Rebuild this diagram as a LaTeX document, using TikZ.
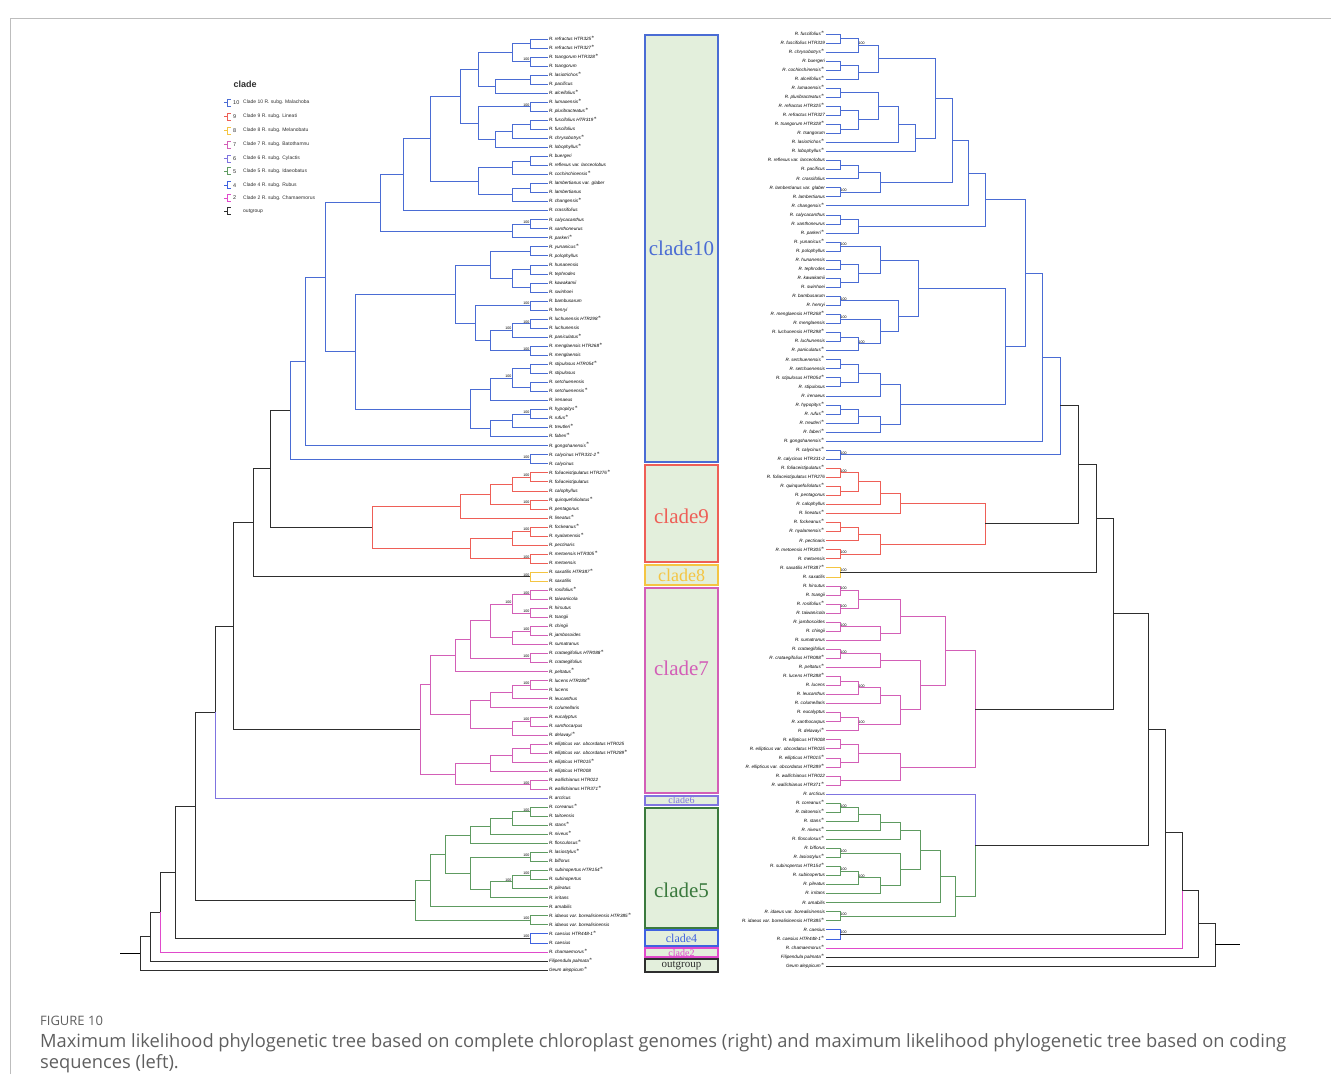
\documentclass[tikz,border=0pt]{standalone}
\usepackage{fontspec}
\setmainfont{Liberation Sans}
\newfontfamily\boxfont{Liberation Serif}
\newfontfamily\capfont{Open Sans}
\usetikzlibrary{calc}
\definecolor{TreeInk}{HTML}{2E2E2E}
\definecolor{TreeBlue}{HTML}{4A6CD4}
\definecolor{TreeRed}{HTML}{EE5F57}
\definecolor{TreeGold}{HTML}{F4C542}
\definecolor{TreePink}{HTML}{D35FB7}
\definecolor{TreeViolet}{HTML}{7F74E0}
\definecolor{TreeGreen}{HTML}{5E9B61}
\definecolor{TreeDarkGreen}{HTML}{3B7A3E}
\definecolor{TreeRoyal}{HTML}{3F62E0}
\definecolor{TreeMagenta}{HTML}{E04ACB}
\definecolor{BoxFill}{HTML}{E3EFDC}
\definecolor{FrameGray}{HTML}{BDBDBD}
\definecolor{CaptionGray}{HTML}{5F5F5F}
\newcommand\clade[5][TreeInk]{%
  \path let \p1=(#4), \p2=(#5) in coordinate (#2) at (#3pt,{(\y1+\y2)/2});
  \draw[branch,#1] (#2) |- (#4) (#2) |- (#5);}
\begin{document}
\begin{tikzpicture}[x=1pt,y=-1pt,
  branch/.style={line width=1pt},
  leafl/.style={anchor=west, inner sep=0.8pt, font=\fontsize{4.6}{5}\selectfont\itshape, text height=3.4pt, text depth=1pt},
  leafr/.style={anchor=east, inner sep=0.8pt, font=\fontsize{4.6}{5}\selectfont\itshape, text height=3.4pt, text depth=1pt},
  bootl/.style={anchor=south east, inner sep=0.5pt, font=\fontsize{3.6}{3.6}\selectfont},
  bootr/.style={anchor=south west, inner sep=0.5pt, font=\fontsize{3.6}{3.6}\selectfont},
  cladebox/.style={draw=#1, fill=BoxFill, line width=1.6pt, minimum width=73pt, inner sep=0pt},
  boxlabel/.style={text=#1, font=\boxfont\fontsize{21}{21}\selectfont, inner sep=0pt}]
  \useasboundingbox (0,0) rectangle (1331,1074);
  \draw[FrameGray, line width=0.8pt] (10,1074) -- (10,18) -- (1331,18);
  % left tree leaves
  \foreach \i/\t in {1/{R. refractus HTR325$^*$},2/{R. refractus HTR327$^*$},3/{R. tsangorum HTR328$^*$},4/{R. tsangorum},5/{R. lasiotrichos$^*$},6/{R. pacificus},7/{R. alceifolius$^*$},8/{R. lumaoensis$^*$},9/{R. pluribracteatus$^*$},10/{R. fuscifolius HTR319$^*$},11/{R. fuscifolius},12/{R. chrysobotrys$^*$},13/{R. lobophyllus$^*$},14/{R. buergeri},15/{R. reflexus var. lanceolobus},16/{R. cochinchinensis$^*$},17/{R. lambertianus var. glaber},18/{R. lambertianus},19/{R. changensis$^*$},20/{R. crassifolius},21/{R. calycacanthus},22/{R. xanthoneurus},23/{R. parkeri$^*$},24/{R. yunanicus$^*$},25/{R. polophyllus},26/{R. hunanensis},27/{R. tephrodes},28/{R. kawakamii},29/{R. swinhoei},30/{R. bambusarum},31/{R. henryi},32/{R. luchunensis HTR298$^*$},33/{R. luchunensis},34/{R. paniculatus$^*$},35/{R. menglaensis HTR268$^*$},36/{R. menglaensis},37/{R. stipulosus HTR054$^*$},38/{R. stipulosus},39/{R. setchuenensis},40/{R. setchuenensis$^*$},41/{R. irenaeus},42/{R. hypopitys$^*$},43/{R. rufus$^*$},44/{R. treutleri$^*$},45/{R. faberi$^*$},46/{R. gongshanensis$^*$},47/{R. calycinus HTR331-2$^*$},48/{R. calycinus},49/{R. foliaceistipulatus HTR276$^*$},50/{R. foliaceistipulatus},51/{R. calophyllus},52/{R. quinquefoliolatus$^*$},53/{R. pentagonus},54/{R. lineatus$^*$},55/{R. fockeanus$^*$},56/{R. nyalamensis$^*$},57/{R. pectinaris},58/{R. metoensis HTR305$^*$},59/{R. metoensis},60/{R. saxatilis HTR387$^*$},61/{R. saxatilis},62/{R. rosifolius$^*$},63/{R. taiwanicola},64/{R. hirsutus},65/{R. tsangii},66/{R. chingii},67/{R. jambosoides},68/{R. sumatranus},69/{R. crataegifolius HTR088$^*$},70/{R. crataegifolius},71/{R. peltatus$^*$},72/{R. lucens HTR288$^*$},73/{R. lucens},74/{R. leucanthus},75/{R. columellaris},76/{R. eucalyptus},77/{R. xanthocarpus},78/{R. delavayi$^*$},79/{R. ellipticus var. obcordatus HTR025},80/{R. ellipticus var. obcordatus HTR289$^*$},81/{R. ellipticus HTR015$^*$},82/{R. ellipticus HTR008},83/{R. wallichianus HTR022},84/{R. wallichianus HTR371$^*$},85/{R. arcticus},86/{R. coreanus$^*$},87/{R. taitoensis},88/{R. stans$^*$},89/{R. niveus$^*$},90/{R. flosculosus$^*$},91/{R. lasiostylus$^*$},92/{R. biflorus},93/{R. subinopertus HTR154$^*$},94/{R. subinopertus},95/{R. pileatus},96/{R. irritans},97/{R. amabilis},98/{R. idaeus var. borealisinensis HTR385$^*$},99/{R. idaeus var. borealisinensis},100/{R. caesius HTR448-1$^*$},101/{R. caesius},102/{R. chamaemorus$^*$},103/{Filipendula palmata$^*$},104/{Geum aleppicum$^*$}}
    \node[leafl] (l\i) at (548,{39+9.04*(\i-1)}) {\t};
  % right tree leaves
  \foreach \i/\t in {1/{R. fuscifolius$^*$},2/{R. fuscifolius HTR319},3/{R. chrysobotrys$^*$},4/{R. buergeri},5/{R. cochinchinensis$^*$},6/{R. alceifolius$^*$},7/{R. lumaoensis$^*$},8/{R. pluribracteatus$^*$},9/{R. refractus HTR325$^*$},10/{R. refractus HTR327},11/{R. tsangorum HTR328$^*$},12/{R. tsangorum},13/{R. lasiotrichos$^*$},14/{R. lobophyllus$^*$},15/{R. reflexus var. lanceolobus},16/{R. pacificus},17/{R. crassifolius},18/{R. lambertianus var. glaber},19/{R. lambertianus},20/{R. changensis$^*$},21/{R. calycacanthus},22/{R. xanthoneurus},23/{R. parkeri$^*$},24/{R. yunanicus$^*$},25/{R. polophyllus},26/{R. hunanensis},27/{R. tephrodes},28/{R. kawakamii},29/{R. swinhoei},30/{R. bambusarum},31/{R. henryi},32/{R. menglaensis HTR268$^*$},33/{R. menglaensis},34/{R. luchunensis HTR298$^*$},35/{R. luchunensis},36/{R. paniculatus$^*$},37/{R. setchuenensis$^*$},38/{R. setchuenensis},39/{R. stipulosus HTR054$^*$},40/{R. stipulosus},41/{R. irenaeus},42/{R. hypopitys$^*$},43/{R. rufus$^*$},44/{R. treutleri$^*$},45/{R. faberi$^*$},46/{R. gongshanensis$^*$},47/{R. calycinus$^*$},48/{R. calycinus HTR331-2},49/{R. foliaceistipulatus$^*$},50/{R. foliaceistipulatus HTR276},51/{R. quinquefoliolatus$^*$},52/{R. pentagonus},53/{R. calophyllus},54/{R. lineatus$^*$},55/{R. fockeanus$^*$},56/{R. nyalamensis$^*$},57/{R. pectinaris},58/{R. metoensis HTR305$^*$},59/{R. metoensis},60/{R. saxatilis HTR387$^*$},61/{R. saxatilis},62/{R. hirsutus},63/{R. tsangii},64/{R. rosifolius$^*$},65/{R. taiwanicola},66/{R. jambosoides},67/{R. chingii},68/{R. sumatranus},69/{R. crataegifolius},70/{R. crataegifolius HTR088$^*$},71/{R. peltatus$^*$},72/{R. lucens HTR288$^*$},73/{R. lucens},74/{R. leucanthus},75/{R. columellaris},76/{R. eucalyptus},77/{R. xanthocarpus},78/{R. delavayi$^*$},79/{R. ellipticus HTR008},80/{R. ellipticus var. obcordatus HTR025},81/{R. ellipticus HTR015$^*$},82/{R. ellipticus var. obcordatus HTR289$^*$},83/{R. wallichianus HTR022},84/{R. wallichianus HTR371$^*$},85/{R. arcticus},86/{R. coreanus$^*$},87/{R. taitoensis$^*$},88/{R. stans$^*$},89/{R. niveus$^*$},90/{R. flosculosus$^*$},91/{R. biflorus},92/{R. lasiostylus$^*$},93/{R. subinopertus HTR154$^*$},94/{R. subinopertus},95/{R. pileatus},96/{R. irritans},97/{R. amabilis},98/{R. idaeus var. borealisinensis},99/{R. idaeus var. borealisinensis HTR385$^*$},100/{R. caesius},101/{R. caesius HTR448-1$^*$},102/{R. chamaemorus$^*$},103/{Filipendula palmata$^*$},104/{Geum aleppicum$^*$}}
    \node[leafr] (r\i) at (826,{34+9.05*(\i-1)}) {\t};
  % left tree, clade 10
  \clade[TreeBlue]{lA1}{530}{l1}{l2}
  \clade[TreeBlue]{lA2}{530}{l3}{l4}
  \clade[TreeBlue]{lA3}{512}{lA1}{lA2}
  \clade[TreeBlue]{lA4}{530}{l5}{l6}
  \clade[TreeBlue]{lA5}{495}{lA4}{l7}
  \clade[TreeBlue]{lA6}{478}{lA3}{lA5}
  \clade[TreeBlue]{lA7}{530}{l8}{l9}
  \clade[TreeBlue]{lA8}{530}{l10}{l11}
  \clade[TreeBlue]{lA9}{512}{lA8}{l12}
  \clade[TreeBlue]{lA10}{495}{lA9}{l13}
  \clade[TreeBlue]{lA11}{478}{lA7}{lA10}
  \clade[TreeBlue]{lA12}{460}{lA6}{lA11}
  \clade[TreeBlue]{lA13}{530}{l14}{l15}
  \clade[TreeBlue]{lA14}{512}{lA13}{l16}
  \clade[TreeBlue]{lA15}{530}{l17}{l18}
  \clade[TreeBlue]{lA16}{512}{lA15}{l19}
  \clade[TreeBlue]{lA17}{478}{lA14}{lA16}
  \clade[TreeBlue]{lA18}{430}{lA12}{lA17}
  \clade[TreeBlue]{lA19}{403}{lA18}{l20}
  \clade[TreeBlue]{lA20}{530}{l21}{l22}
  \clade[TreeBlue]{lA21}{512}{lA20}{l23}
  \clade[TreeBlue]{lA22}{380}{lA19}{lA21}
  \clade[TreeBlue]{lA23}{530}{l24}{l25}
  \clade[TreeBlue]{lA24}{530}{l26}{l27}
  \clade[TreeBlue]{lA25}{530}{l28}{l29}
  \clade[TreeBlue]{lA26}{512}{lA24}{lA25}
  \clade[TreeBlue]{lA27}{490}{lA23}{lA26}
  \clade[TreeBlue]{lA28}{530}{l30}{l31}
  \clade[TreeBlue]{lA29}{530}{l32}{l33}
  \clade[TreeBlue]{lA30}{512}{lA29}{l34}
  \clade[TreeBlue]{lA31}{530}{l35}{l36}
  \clade[TreeBlue]{lA32}{490}{lA30}{lA31}
  \clade[TreeBlue]{lA33}{475}{lA28}{lA32}
  \clade[TreeBlue]{lA34}{455}{lA27}{lA33}
  \clade[TreeBlue]{lA35}{530}{l37}{l38}
  \clade[TreeBlue]{lA36}{530}{l39}{l40}
  \clade[TreeBlue]{lA37}{512}{lA35}{lA36}
  \clade[TreeBlue]{lA38}{490}{lA37}{l41}
  \clade[TreeBlue]{lA39}{530}{l42}{l43}
  \clade[TreeBlue]{lA40}{512}{lA39}{l44}
  \clade[TreeBlue]{lA41}{490}{lA40}{l45}
  \clade[TreeBlue]{lA42}{470}{lA38}{lA41}
  \clade[TreeBlue]{lA43}{355}{lA34}{lA42}
  \clade[TreeBlue]{lA44}{325}{lA22}{lA43}
  \clade[TreeBlue]{lA45}{305}{lA44}{l46}
  \clade[TreeBlue]{lA46}{530}{l47}{l48}
  \clade[TreeBlue]{lA47}{290}{lA45}{lA46}
  % left tree, clades 9 and 8
  \clade[TreeRed]{lB1}{530}{l49}{l50}
  \clade[TreeRed]{lB2}{512}{lB1}{l51}
  \clade[TreeRed]{lB3}{530}{l52}{l53}
  \clade[TreeRed]{lB4}{490}{lB2}{lB3}
  \clade[TreeRed]{lB5}{460}{lB4}{l54}
  \clade[TreeRed]{lB6}{530}{l55}{l56}
  \clade[TreeRed]{lB7}{512}{lB6}{l57}
  \clade[TreeRed]{lB8}{530}{l58}{l59}
  \clade[TreeRed]{lB9}{470}{lB7}{lB8}
  \clade[TreeRed]{lB10}{372}{lB5}{lB9}
  \clade[TreeGold]{lC1}{530}{l60}{l61}
  % left tree, clade 7
  \clade[TreePink]{lE1}{530}{l62}{l63}
  \clade[TreePink]{lE2}{530}{l64}{l65}
  \clade[TreePink]{lE3}{512}{lE1}{lE2}
  \clade[TreePink]{lE4}{530}{l66}{l67}
  \clade[TreePink]{lE5}{512}{lE4}{l68}
  \clade[TreePink]{lE6}{490}{lE3}{lE5}
  \clade[TreePink]{lE7}{530}{l69}{l70}
  \clade[TreePink]{lE8a}{470}{lE6}{lE7}
  \clade[TreePink]{lE8}{455}{lE8a}{l71}
  \clade[TreePink]{lE9}{530}{l72}{l73}
  \clade[TreePink]{lE10}{512}{lE9}{l74}
  \clade[TreePink]{lE11}{490}{lE10}{l75}
  \clade[TreePink]{lE12}{530}{l76}{l77}
  \clade[TreePink]{lE13}{512}{lE12}{l78}
  \clade[TreePink]{lE14}{470}{lE11}{lE13}
  \clade[TreePink]{lE15}{430}{lE8}{lE14}
  \clade[TreePink]{lE16}{530}{l79}{l80}
  \clade[TreePink]{lE17}{512}{lE16}{l81}
  \clade[TreePink]{lE18}{490}{lE17}{l82}
  \clade[TreePink]{lE19}{530}{l83}{l84}
  \clade[TreePink]{lE20}{455}{lE18}{lE19}
  \clade[TreePink]{lE21}{420}{lE15}{lE20}
  % left tree, clades 5 and 4
  \clade[TreeGreen]{lG1}{530}{l86}{l87}
  \clade[TreeGreen]{lG2}{512}{lG1}{l88}
  \clade[TreeGreen]{lG3}{490}{lG2}{l89}
  \clade[TreeGreen]{lG4}{470}{lG3}{l90}
  \clade[TreeGreen]{lG5}{530}{l91}{l92}
  \clade[TreeGreen]{lG6}{530}{l93}{l94}
  \clade[TreeGreen]{lG7}{512}{lG6}{l95}
  \clade[TreeGreen]{lG8}{490}{lG7}{l96}
  \clade[TreeGreen]{lG9}{470}{lG5}{lG8}
  \clade[TreeGreen]{lG10}{445}{lG4}{lG9}
  \clade[TreeGreen]{lG11}{430}{lG10}{l97}
  \clade[TreeGreen]{lG12}{530}{l98}{l99}
  \clade[TreeGreen]{lG13}{415}{lG11}{lG12}
  \clade[TreeRoyal]{lH1}{530}{l100}{l101}
  % left tree, backbone
  \clade{lK1}{270}{lA47}{lB10}
  \clade{lK2}{253}{lK1}{lC1}
  \clade{lK3}{233}{lK2}{lE21}
  \clade{lK4}{215}{lK3}{l85}
  \draw[branch,TreeViolet] (lK4) |- (l85);
  \clade{lK5}{195}{lK4}{lG13}
  \clade{lK6}{175}{lK5}{lH1}
  \clade{lK7}{160}{lK6}{l102}
  \draw[branch,TreeMagenta] (lK7) |- (l102);
  \clade{lK8}{150}{lK7}{l103}
  \clade{lK9}{140}{lK8}{l104}
  \coordinate (lroot) at ($(lK9)+(-20,0)$);
  \draw[branch] (lroot) -- (lK9);
  % right tree, clade 10
  \clade[TreeBlue]{rA1}{840}{r1}{r2}
  \clade[TreeBlue]{rA2}{858}{rA1}{r3}
  \clade[TreeBlue]{rA3}{840}{r4}{r5}
  \clade[TreeBlue]{rA4}{858}{rA3}{r6}
  \clade[TreeBlue]{rA5}{878}{rA2}{rA4}
  \clade[TreeBlue]{rA6}{840}{r7}{r8}
  \clade[TreeBlue]{rA7}{840}{r9}{r10}
  \clade[TreeBlue]{rA8}{840}{r11}{r12}
  \clade[TreeBlue]{rA9}{858}{rA7}{rA8}
  \clade[TreeBlue]{rA10}{878}{rA6}{rA9}
  \clade[TreeBlue]{rA11}{898}{rA10}{r13}
  \clade[TreeBlue]{rA12}{915}{rA11}{r14}
  \clade[TreeBlue]{rA13}{935}{rA5}{rA12}
  \clade[TreeBlue]{rA14}{840}{r15}{r16}
  \clade[TreeBlue]{rA15}{858}{rA14}{r17}
  \clade[TreeBlue]{rA16}{840}{r18}{r19}
  \clade[TreeBlue]{rA17}{880}{rA15}{rA16}
  \clade[TreeBlue]{rA18}{952}{rA13}{rA17}
  \clade[TreeBlue]{rA19}{968}{rA18}{r20}
  \clade[TreeBlue]{rA20}{840}{r21}{r22}
  \clade[TreeBlue]{rA21}{858}{rA20}{r23}
  \clade[TreeBlue]{rA22}{985}{rA19}{rA21}
  \clade[TreeBlue]{rA23}{840}{r24}{r25}
  \clade[TreeBlue]{rA24}{840}{r26}{r27}
  \clade[TreeBlue]{rA25}{840}{r28}{r29}
  \clade[TreeBlue]{rA26}{858}{rA24}{rA25}
  \clade[TreeBlue]{rA27}{880}{rA23}{rA26}
  \clade[TreeBlue]{rA28}{840}{r30}{r31}
  \clade[TreeBlue]{rA29}{840}{r32}{r33}
  \clade[TreeBlue]{rA30}{840}{r34}{r35}
  \clade[TreeBlue]{rA31}{858}{rA30}{r36}
  \clade[TreeBlue]{rA32}{880}{rA29}{rA31}
  \clade[TreeBlue]{rA33}{898}{rA28}{rA32}
  \clade[TreeBlue]{rA34}{918}{rA27}{rA33}
  \clade[TreeBlue]{rA35}{840}{r37}{r38}
  \clade[TreeBlue]{rA36}{840}{r39}{r40}
  \clade[TreeBlue]{rA37}{858}{rA35}{rA36}
  \clade[TreeBlue]{rA38}{880}{rA37}{r41}
  \clade[TreeBlue]{rA39}{840}{r42}{r43}
  \clade[TreeBlue]{rA40}{858}{rA39}{r44}
  \clade[TreeBlue]{rA41}{880}{rA40}{r45}
  \clade[TreeBlue]{rA42}{900}{rA38}{rA41}
  \clade[TreeBlue]{rA43}{1005}{rA34}{rA42}
  \clade[TreeBlue]{rA44}{1025}{rA22}{rA43}
  \clade[TreeBlue]{rA45}{1042}{rA44}{r46}
  \clade[TreeBlue]{rA46}{840}{r47}{r48}
  \clade[TreeBlue]{rA47}{1060}{rA45}{rA46}
  % right tree, clades 9 and 8
  \clade[TreeRed]{rB1}{840}{r49}{r50}
  \clade[TreeRed]{rB2}{840}{r51}{r52}
  \clade[TreeRed]{rB3}{858}{rB1}{rB2}
  \clade[TreeRed]{rB4}{880}{rB3}{r53}
  \clade[TreeRed]{rB5}{900}{rB4}{r54}
  \clade[TreeRed]{rB6}{840}{r55}{r56}
  \clade[TreeRed]{rB7}{858}{rB6}{r57}
  \clade[TreeRed]{rB8}{840}{r58}{r59}
  \clade[TreeRed]{rB9}{880}{rB7}{rB8}
  \clade[TreeRed]{rB10}{985}{rB5}{rB9}
  \clade[TreeGold]{rC1}{840}{r60}{r61}
  % right tree, clade 7
  \clade[TreePink]{rE1}{840}{r62}{r63}
  \clade[TreePink]{rE2}{840}{r64}{r65}
  \clade[TreePink]{rE3}{858}{rE1}{rE2}
  \clade[TreePink]{rE4}{840}{r66}{r67}
  \clade[TreePink]{rE5}{880}{rE4}{r68}
  \clade[TreePink]{rE6}{900}{rE3}{rE5}
  \clade[TreePink]{rE7}{840}{r69}{r70}
  \clade[TreePink]{rE8}{880}{rE7}{r71}
  \clade[TreePink]{rE9}{840}{r72}{r73}
  \clade[TreePink]{rE10}{858}{rE9}{r74}
  \clade[TreePink]{rE11}{880}{rE10}{r75}
  \clade[TreePink]{rE12}{840}{r76}{r77}
  \clade[TreePink]{rE13}{858}{rE12}{r78}
  \clade[TreePink]{rE14}{900}{rE11}{rE13}
  \clade[TreePink]{rE15}{920}{rE8}{rE14}
  \clade[TreePink]{rE16}{945}{rE6}{rE15}
  \clade[TreePink]{rE17}{840}{r79}{r80}
  \clade[TreePink]{rE18}{840}{r81}{r82}
  \clade[TreePink]{rE19}{858}{rE17}{rE18}
  \clade[TreePink]{rE20}{840}{r83}{r84}
  \clade[TreePink]{rE21}{900}{rE19}{rE20}
  \clade[TreePink]{rE22}{975}{rE16}{rE21}
  % right tree, clades 6, 5 and 4
  \clade[TreeGreen]{rG1}{840}{r86}{r87}
  \clade[TreeGreen]{rG2}{858}{rG1}{r88}
  \clade[TreeGreen]{rG3}{880}{rG2}{r89}
  \clade[TreeGreen]{rG4}{900}{rG3}{r90}
  \clade[TreeGreen]{rG5}{840}{r91}{r92}
  \clade[TreeGreen]{rG6}{840}{r93}{r94}
  \clade[TreeGreen]{rG7}{858}{rG6}{r95}
  \clade[TreeGreen]{rG8}{880}{rG7}{r96}
  \clade[TreeGreen]{rG9}{900}{rG5}{rG8}
  \clade[TreeGreen]{rG10}{920}{rG4}{rG9}
  \clade[TreeGreen]{rG11}{940}{rG10}{r97}
  \clade[TreeGreen]{rG12}{840}{r98}{r99}
  \clade[TreeGreen]{rG13}{955}{rG11}{rG12}
  \clade[TreeGreen]{rG14}{975}{r85}{rG13}
  \draw[branch,TreeViolet] (rG14) |- (r85);
  \clade[TreeRoyal]{rH1}{840}{r100}{r101}
  % right tree, backbone
  \clade{rK1}{1078}{rA47}{rB10}
  \clade{rK2}{1096}{rK1}{rC1}
  \clade{rK3}{1113}{rK2}{rE22}
  \clade{rK4}{1148}{rK3}{rG14}
  \clade{rK5}{1165}{rK4}{rH1}
  \clade{rK6}{1182}{rK5}{r102}
  \draw[branch,TreeMagenta] (rK6) |- (r102);
  \clade{rK7}{1198}{rK6}{r103}
  \clade{rK8}{1215}{rK7}{r104}
  \coordinate (rroot) at ($(rK8)+(25,0)$);
  \draw[branch] (rK8) -- (rroot);
  % support values
  \foreach \n in {lA2,lA7,lA20,lA28,lA29,lA30,lA31,lA37,lA39,lA46,lB1,lB3,lB6,lB8,lC1,lE1,lE2,lE3,lE4,lE7,lE9,lE12,lE19,lG1,lG5,lG6,lG7,lG12,lH1}
    \node[bootl] (b\n) at (\n) {100};
  \foreach \n in {rA2,rA16,rA23,rA28,rA29,rA31,rA46,rB1,rB8,rC1,rE1,rE2,rE4,rE7,rE10,rE13,rG1,rG5,rG6,rG7,rG12,rH1}
    \node[bootr] (b\n) at (\n) {100};
  % clade column
  \node[cladebox=TreeBlue] (box10) at (681.5,248.5) [minimum height=427pt] {};
  \node[cladebox=TreeRed] (box9) at (681.5,513.5) [minimum height=97pt] {};
  \node[cladebox=TreeGold] (box8) at (681.5,575) [minimum height=20pt] {};
  \node[cladebox=TreePink] (box7) at (681.5,690.5) [minimum height=205pt] {};
  \node[cladebox=TreeViolet] (box6) at (681.5,800.5) [minimum height=9pt] {};
  \node[cladebox=TreeDarkGreen] (box5) at (681.5,868) [minimum height=120pt] {};
  \node[cladebox=TreeRoyal] (box4) at (681.5,938) [minimum height=16pt] {};
  \node[cladebox=TreeMagenta] (box2) at (681.5,952.5) [minimum height=9pt] {};
  \node[cladebox=TreeInk] (boxog) at (681.5,965.5) [minimum height=13pt] {};
  \node[boxlabel=TreeBlue] (lab10) at (681.5,248) {clade10};
  \node[boxlabel=TreeRed] (lab9) at (681.5,516) {clade9};
  \node[boxlabel=TreeGold, font=\boxfont\fontsize{18}{18}\selectfont] (lab8) at (681.5,575) {clade8};
  \node[boxlabel=TreePink] (lab7) at (681.5,668) {clade7};
  \node[boxlabel=TreeViolet, font=\boxfont\fontsize{10}{10}\selectfont] (lab6) at (681.5,800.5) {clade6};
  \node[boxlabel=TreeDarkGreen] (lab5) at (681.5,890) {clade5};
  \node[boxlabel=TreeRoyal, font=\boxfont\fontsize{12}{12}\selectfont] (lab4) at (681.5,938) {clade4};
  \node[boxlabel=TreeMagenta, font=\boxfont\fontsize{10}{10}\selectfont] (lab2) at (681.5,953) {clade2};
  \node[boxlabel=TreeInk, font=\boxfont\fontsize{11}{11}\selectfont] (labog) at (681.5,966) {outgroup};
  % legend
  \node[anchor=west, font=\fontsize{9}{9}\selectfont\bfseries, text=TreeInk] (legtitle) at (230,84) {clade};
  \foreach \y/\c/\k/\t in {102.7/TreeBlue/10/{Clade 10 R. subg. Malachoba},116.7/TreeRed/9/{Clade 9 R. subg. Lineati},130.7/TreeGold/8/{Clade 8 R. subg. Melanobatu},144.7/TreePink/7/{Clade 7 R. subg. Batothamnu},158.7/TreeViolet/6/{Clade 6 R. subg. Cylactis},171.3/TreeGreen/5/{Clade 5 R. subg. Idaeobatus},185.3/TreeRoyal/4/{Clade 4 R. subg. Rubus},198/TreeMagenta/2/{Clade 2 R. subg. Chamaemorus},211.3/TreeInk//{outgroup}} {
    \draw[\c, line width=0.8pt] (224,\y) -- (227,\y) (230.5,\y-3.5) -- (227,\y-3.5) -- (227,\y+3.5) -- (230.5,\y+3.5);
    \node[anchor=west, inner sep=0pt, font=\fontsize{5.5}{6}\selectfont, text=TreeInk] (legk\k) at (233,\y) {\k};
    \node[anchor=west, inner sep=0pt, font=\fontsize{5}{6}\selectfont, text=TreeInk] (legt\y) at (243,\y) {\t};
  }
  % caption
  \node[anchor=base west, inner sep=0pt, font=\capfont\fontsize{13}{16}\selectfont, text=CaptionGray] (figno) at (40,1025) {FIGURE 10};
  \node[anchor=base west, inner sep=0pt, align=left, font=\capfont\fontsize{18.3}{20.5}\selectfont, text=CaptionGray] (caption) at (40,1068) {Maximum likelihood phylogenetic tree based on complete chloroplast genomes (right) and maximum likelihood phylogenetic tree based on coding\\sequences (left).};
\end{tikzpicture}
\end{document}
